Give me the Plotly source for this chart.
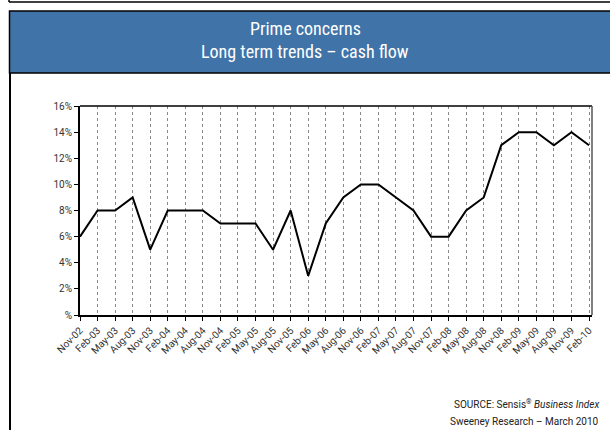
import plotly.graph_objects as go

categories = ["Nov-02", "Feb-03", "May-03", "Aug-03", "Nov-03", "Feb-04", "May-04", "Aug-04",
              "Nov-04", "Feb-05", "May-05", "Aug-05", "Nov-05", "Feb-06", "May-06", "Aug-06",
              "Nov-06", "Feb-07", "May-07", "Aug-07", "Nov-07", "Feb-08", "May-08", "Aug-08",
              "Nov-08", "Feb-09", "May-09", "Aug-09", "Nov-09", "Feb-10"]
cash_flow = [6, 8, 8, 9, 5, 8, 8, 8, 7, 7, 7, 5, 8, 3, 7, 9,
             10, 10, 9, 8, 6, 6, 8, 9, 13, 14, 14, 13, 14, 13]
y_tick_vals = [0, 2, 4, 6, 8, 10, 12, 14, 16]
y_tick_text = ["%", "2%", "4%", "6%", "8%", "10%", "12%", "14%", "16%"]

W, H = 610, 430
L, R, T, B = 80, 18, 106, 115
PW, PH = W - L - R, H - T - B

def px(x):
    return (x - L) / PW

def py(y):
    return (H - B - y) / PH

TITLE_FONT = "Liberation Sans Narrow, Roboto Condensed, DejaVu Sans Condensed, sans-serif"
FONT = "Roboto, Open Sans, sans-serif"

xs = list(range(len(categories)))
fig = go.Figure()
fig.add_trace(go.Scatter(x=xs, y=cash_flow, mode="lines",
                         line=dict(color="black", width=2), hoverinfo="skip"))

fig.update_layout(
    width=W, height=H, margin=dict(l=L, r=R, t=T, b=B),
    paper_bgcolor="white", plot_bgcolor="white", showlegend=False,
    font=dict(family=FONT, size=10, color="#333333"),
    xaxis=dict(range=[0, 29.17], tickmode="array", tickvals=xs, ticktext=categories,
               tickangle=-45, ticks="outside", ticklen=4, tickcolor="black",
               showgrid=True, gridcolor="#888888", griddash="dot", gridwidth=1,
               showline=True, linecolor="black", linewidth=1.5, zeroline=False,
               tickfont=dict(family=FONT, size=10, color="#333333")),
    yaxis=dict(range=[0, 16], tickmode="array", tickvals=y_tick_vals, ticktext=y_tick_text,
               ticks="outside", ticklen=4, tickcolor="black", showgrid=False,
               showline=True, linecolor="black", linewidth=2, zeroline=False,
               tickfont=dict(family=FONT, size=10, color="#333333")),
)

shapes = []
shapes.append(dict(type="line", xref="paper", yref="paper", x0=0, x1=1, y0=1, y1=1,
                   line=dict(color="black", width=1.5)))
shapes.append(dict(type="line", xref="paper", yref="paper", x0=1, x1=1, y0=0, y1=1,
                   line=dict(color="#555555", width=1.5)))
shapes.append(dict(type="rect", xref="paper", yref="paper", x0=px(9.5), x1=px(615),
                   y0=py(73), y1=py(11), fillcolor="#4073A8",
                   line=dict(color="black", width=1.5), layer="below"))
shapes.append(dict(type="line", xref="paper", yref="paper", x0=px(9), x1=px(612),
                   y0=py(2), y1=py(2), line=dict(color="black", width=1.5)))
shapes.append(dict(type="line", xref="paper", yref="paper", x0=px(9), x1=px(9),
                   y0=py(-2), y1=py(2), line=dict(color="black", width=1.5)))
shapes.append(dict(type="line", xref="paper", yref="paper", x0=px(10), x1=px(10),
                   y0=py(73), y1=py(432), line=dict(color="black", width=2)))
fig.update_layout(shapes=shapes)

ann = []
ann.append(dict(xref="paper", yref="paper", x=px(305), y=py(29), text="Prime concerns",
                showarrow=False, xanchor="center", yanchor="middle",
                font=dict(family=TITLE_FONT, size=18, color="white")))
ann.append(dict(xref="paper", yref="paper", x=px(305), y=py(51),
                text="Long term trends \u2013 cash flow",
                showarrow=False, xanchor="center", yanchor="middle",
                font=dict(family=TITLE_FONT, size=18, color="white")))
ann.append(dict(xref="paper", yref="paper", x=px(601), y=py(404),
                text="SOURCE: Sensis<sup>\u00ae</sup> <i>Business Index</i>",
                showarrow=False, xanchor="right", yanchor="middle",
                font=dict(family=FONT, size=10, color="#222222")))
ann.append(dict(xref="paper", yref="paper", x=px(601), y=py(421),
                text="Sweeney Research \u2013 March 2010",
                showarrow=False, xanchor="right", yanchor="middle",
                font=dict(family=FONT, size=10, color="#222222")))
fig.update_layout(annotations=ann)

fig.write_html("out.html", config={"displayModeBar": False},
               post_script="document.body.style.margin='0';document.body.style.padding='0';document.body.style.overflow='hidden';")
